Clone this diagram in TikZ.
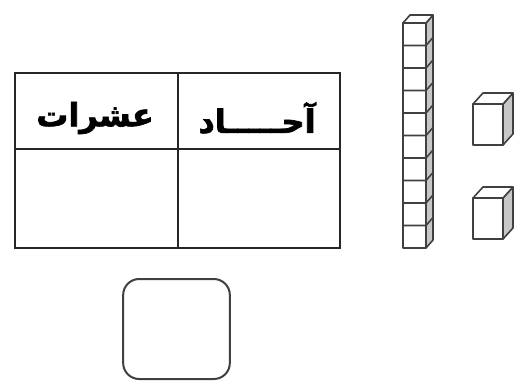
\documentclass[tikz,border=0pt]{standalone}
\usepackage{fontspec}
\newfontfamily\arabicfont[Script=Arabic,FakeBold=2.2,BoldFeatures={FakeBold=2.2}]{DejaVu Sans}
\TeXXeTstate=1
\begin{document}
\begin{tikzpicture}[x=0.75pt,y=-0.75pt,
  tableline/.style={draw=black!85,line width=1.5pt},
  cubeline/.style={draw=black!75,line width=1.2pt,line join=round},
  sideface/.style={cubeline,fill=black!22},
  topface/.style={cubeline,fill=white},
  frontface/.style={cubeline,fill=white},
  header/.style={font=\arabicfont\bfseries\fontsize{24}{28}\selectfont,inner sep=0pt}]
\useasboundingbox (0,0) rectangle (515,383);
% table
\draw[tableline] (15,73) rectangle (340,248);
\draw[tableline] (15,149) -- (340,149);
\draw[tableline] (178,73) -- (178,248);
\node[header] (tens) at (95,118) {\beginR عشرات\endR};
\node[header] (ones) at (257,118) {\beginR آحـــــاد\endR};
% answer box
\node[draw=black!75,line width=1.5pt,rounded corners=12pt,minimum width=80pt,minimum height=75pt,inner sep=0pt] (answer) at (176.5,329) {};
% rod of ten
\draw[sideface] (426,23) -- (433,15) -- (433,240) -- (426,248) -- cycle;
\draw[topface] (403,23) -- (410,15) -- (433,15) -- (426,23) -- cycle;
\draw[frontface] (403,23) rectangle (426,248);
\foreach \i in {1,...,9}{
  \draw[cubeline] (403,23+22.5*\i) -- (426,23+22.5*\i) -- (433,15+22.5*\i);
}
% unit cubes
\foreach \t in {104,198}{
  \draw[sideface] (503,\t) -- (513,\t-11) -- (513,\t+30) -- (503,\t+41) -- cycle;
  \draw[topface] (473,\t) -- (483,\t-11) -- (513,\t-11) -- (503,\t) -- cycle;
  \draw[frontface] (473,\t) rectangle (503,\t+41);
}
\end{tikzpicture}
\end{document}
